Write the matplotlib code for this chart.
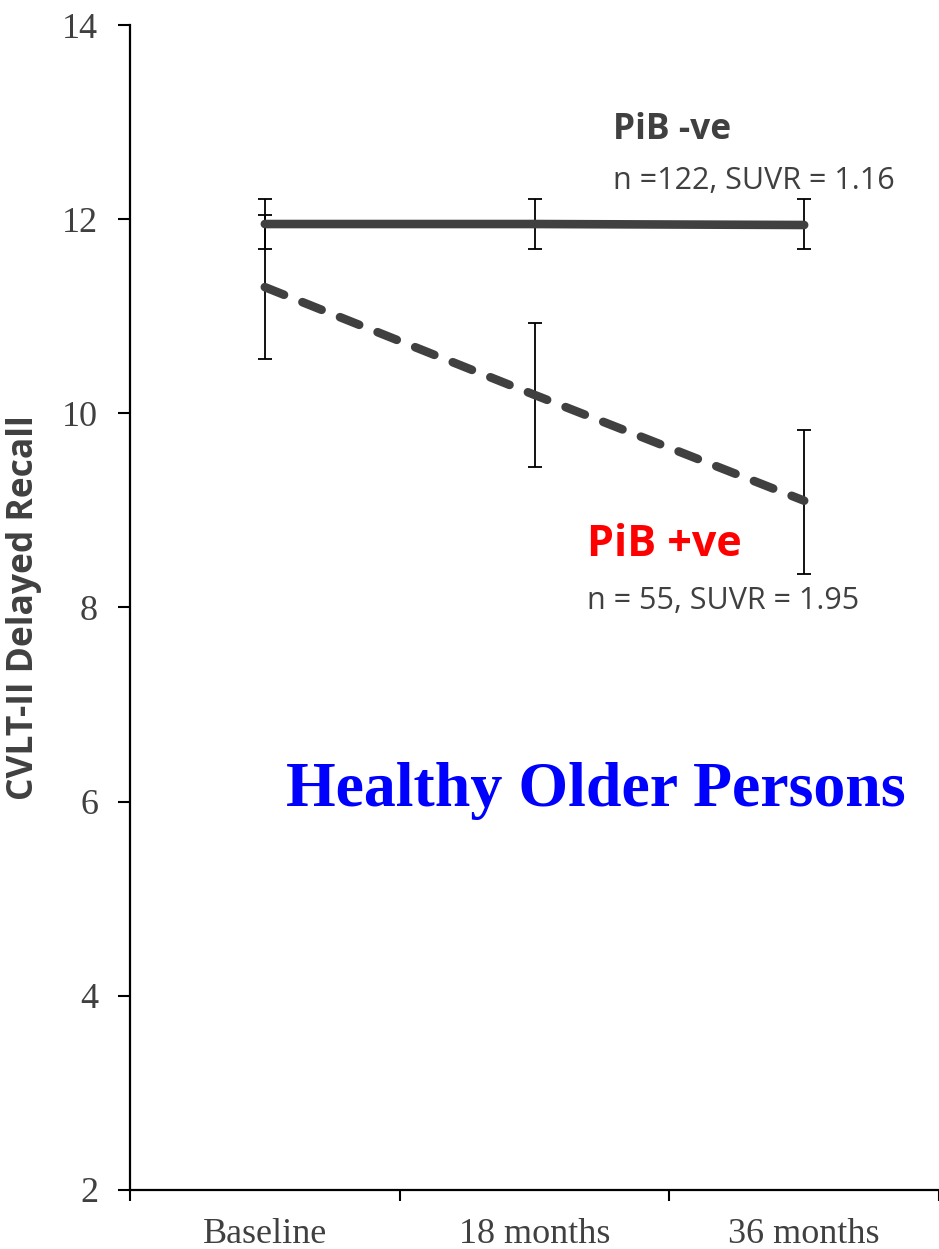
import matplotlib.pyplot as plt
from matplotlib.ticker import FixedLocator, NullFormatter

# CVLT-II delayed recall over follow-up, by PiB status
timepoints = ["Baseline", "18 months", "36 months"]

pib_neg_mean = [11.95, 11.95, 11.94]
pib_neg_lower = [11.69, 11.69, 11.69]
pib_neg_upper = [12.21, 12.21, 12.21]

pib_pos_mean = [11.30, 10.19, 9.10]
pib_pos_lower = [10.56, 9.45, 8.34]
pib_pos_upper = [12.04, 10.93, 9.83]

y_ticks = [2, 4, 6, 8, 10, 12, 14]

DARK = "#404040"

fig = plt.figure(figsize=(9.39, 12.49), dpi=100)
ax = fig.add_axes([130 / 939, 1 - 1190 / 1249, 809 / 939, 1165 / 1249])

x = [i + 0.5 for i in range(len(timepoints))]


def err(mean, lower, upper):
    return [[m - lo for m, lo in zip(mean, lower)],
            [hi - m for m, hi in zip(mean, upper)]]


for mean, lower, upper in [(pib_neg_mean, pib_neg_lower, pib_neg_upper),
                           (pib_pos_mean, pib_pos_lower, pib_pos_upper)]:
    ax.errorbar(x, mean, yerr=err(mean, lower, upper), fmt="none",
                ecolor="black", elinewidth=1.3, capsize=5, capthick=1.3,
                zorder=2)

ax.plot(x, pib_neg_mean, color=DARK, lw=6.2, solid_capstyle="round", zorder=3)
ax.plot(x, pib_pos_mean, color=DARK, lw=6.2, dashes=(2.4, 2.3),
        dash_capstyle="round", zorder=3)

ax.set_xlim(0, 3)
ax.set_ylim(2, 14)
ax.set_yticks(y_ticks)
ax.xaxis.set_major_locator(FixedLocator([0, 1, 2, 3]))
ax.xaxis.set_major_formatter(NullFormatter())
ax.xaxis.set_minor_locator(FixedLocator(x))
ax.set_xticklabels(timepoints, minor=True)

for s in ["top", "right"]:
    ax.spines[s].set_visible(False)
for s in ["left", "bottom"]:
    ax.spines[s].set_linewidth(1.6)

ax.tick_params(axis="y", which="major", direction="out", length=9, width=1.5,
               pad=14, labelsize=26, labelcolor=DARK)
ax.tick_params(axis="x", which="major", direction="out", length=8, width=1.5)
ax.tick_params(axis="x", which="minor", length=0, pad=20, labelsize=26,
               labelcolor=DARK)
for lbl in ax.get_yticklabels() + ax.get_xticklabels(minor=True):
    lbl.set_fontfamily("Liberation Serif")

ax.set_ylabel("CVLT-II Delayed Recall", fontfamily="Open Sans",
              fontweight="bold", fontsize=25.5, color=DARK)
ax.yaxis.set_label_coords(-0.109, 0.5)

ax.text(1.79, 12.92, "PiB -ve", fontfamily="Open Sans", fontweight="bold",
        fontsize=25.5, color=DARK, ha="left", va="center")
ax.text(1.79, 12.39, "n =122, SUVR = 1.16", fontfamily="Open Sans",
        fontsize=22, color=DARK, ha="left", va="center")
ax.text(1.695, 8.65, "PiB +ve", fontfamily="Open Sans", fontweight="bold",
        fontsize=31, color="#ff0000", ha="left", va="center")
ax.text(1.695, 8.07, "n = 55, SUVR = 1.95", fontfamily="Open Sans",
        fontsize=22, color=DARK, ha="left", va="center")
ax.text(0.578, 5.96, "Healthy Older Persons", fontfamily="Liberation Serif",
        fontweight="bold", fontsize=46, color="#0000ff", ha="left",
        va="baseline")

fig.savefig("out.png", dpi=100)
